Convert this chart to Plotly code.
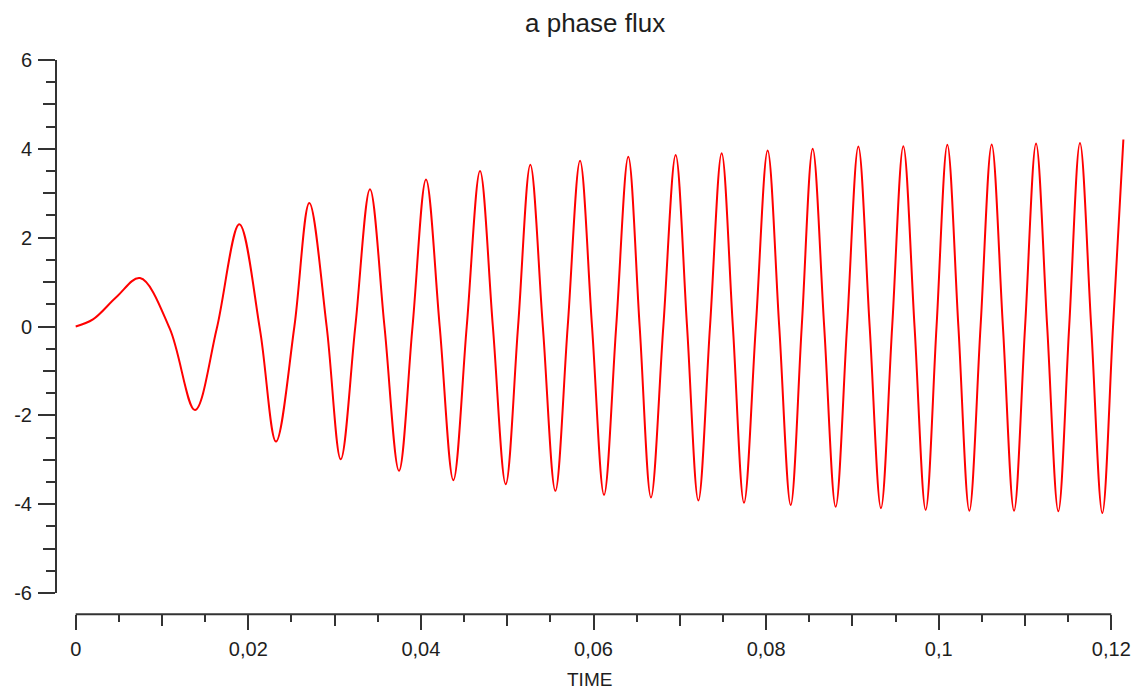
import plotly.graph_objects as go

# ---- data: a-phase flux linkage during start-up ----
time_s = [
    0.0, 0.002, 0.00475, 0.00745, 0.0109,
    0.01382, 0.01634, 0.01896, 0.02136, 0.02321,
    0.02534, 0.02707, 0.02908, 0.03071, 0.0324, 0.0341, 0.03578, 0.03746,
    0.03903, 0.04059, 0.04218, 0.04376, 0.04531, 0.04685, 0.04834, 0.04983, 0.05126, 0.05268,
    0.05413, 0.05558, 0.05701, 0.05844, 0.05983, 0.06122, 0.06263, 0.06403, 0.06535, 0.06666,
    0.06809, 0.06952, 0.07084, 0.07215, 0.0735, 0.07485, 0.07615, 0.07744, 0.07881, 0.08018,
    0.08152, 0.08285, 0.08413, 0.0854, 0.08673, 0.08806, 0.08938, 0.09069, 0.092, 0.09331,
    0.09461, 0.0959, 0.0972, 0.09849, 0.09975, 0.101, 0.10228, 0.10355, 0.10485, 0.10614,
    0.10744, 0.10873, 0.11001, 0.11128, 0.11257, 0.11386, 0.11512, 0.11637, 0.11767, 0.11896,
    0.1202, 0.1214,
]
flux = [
    0.0, 0.16, 0.67, 1.09, -0.05,
    -1.88, -0.05, 2.30, -0.08, -2.59,
    0.0, 2.78, 0.0, -2.99, 0.0, 3.09, 0.0, -3.25,
    0.0, 3.31, 0.0, -3.46, 0.0, 3.50, 0.0, -3.55, 0.0, 3.64,
    0.0, -3.70, 0.0, 3.73, 0.0, -3.79, 0.0, 3.82, 0.0, -3.85,
    0.0, 3.86, 0.0, -3.92, 0.0, 3.90, 0.0, -3.97, 0.0, 3.96,
    0.0, -4.02, 0.0, 4.00, 0.0, -4.06, 0.0, 4.05, 0.0, -4.09,
    0.0, 4.06, 0.0, -4.13, 0.0, 4.09, 0.0, -4.15, 0.0, 4.10,
    0.0, -4.15, 0.0, 4.12, 0.0, -4.16, 0.0, 4.13, 0.0, -4.20,
    0.0, 4.21,
]

# ---- tick definitions ----
x_major = [0, 0.02, 0.04, 0.06, 0.08, 0.1, 0.12]
x_major_text = ["0", "0,02", "0,04", "0,06", "0,08", "0,1", "0,12"]
x_mid = [0.01, 0.03, 0.05, 0.07, 0.09, 0.11]
x_minor = [0.005, 0.015, 0.025, 0.035, 0.045, 0.055,
           0.065, 0.075, 0.085, 0.095, 0.105, 0.115]
y_major = [-6, -4, -2, 0, 2, 4, 6]
y_mid = [-5, -3, -1, 1, 3, 5]
y_minor = [-5.5, -4.5, -3.5, -2.5, -1.5, -0.5, 0.5, 1.5, 2.5, 3.5, 4.5, 5.5]

title_text = "a phase flux"
x_label = "TIME"

# ---- page geometry (pixels) ----
W, H = 1136, 691
X0_PX = 75.7          # pixel column of t = 0
PX_PER_S = 8630.0     # horizontal scale
Y_TOP_PX, Y_BOT_PX = 60, 593   # rows of y = 6 and y = -6
XAXIS_ROW = 614.3
YAXIS_COL = 56.0

AXIS_COLOR = "#333333"
TEXT_COLOR = "#1e1e1e"
FONT = "Liberation Sans"


def px_x(p):
    return p / W


def px_y(p):
    return (H - p) / H


x_range = [-X0_PX / PX_PER_S, (W - X0_PX) / PX_PER_S]
y_domain = [px_y(Y_BOT_PX), px_y(Y_TOP_PX)]

fig = go.Figure()
fig.add_trace(go.Scatter(
    x=time_s, y=flux, mode="lines",
    line=dict(color="#ff0000", width=2, shape="spline", smoothing=1.0),
    hoverinfo="skip", showlegend=False,
))
# empty trace carrying the secondary tick axes
fig.add_trace(go.Scatter(x=[], y=[], xaxis="x2", yaxis="y2",
                         showlegend=False, hoverinfo="skip"))

tick_font = dict(family=FONT, size=20, color=TEXT_COLOR)

fig.update_layout(
    template="none",
    width=W, height=H,
    margin=dict(l=0, r=0, t=0, b=0, pad=0, autoexpand=False),
    paper_bgcolor="white", plot_bgcolor="white",
    showlegend=False,
    xaxis=dict(
        domain=[0, 1], range=x_range, anchor="free", position=px_y(XAXIS_ROW),
        automargin=False,
        showline=False, showgrid=False, zeroline=False,
        tickmode="array", tickvals=x_major, ticktext=x_major_text,
        ticks="outside", ticklen=15, tickwidth=2, tickcolor=AXIS_COLOR,
        tickfont=tick_font, ticklabelstandoff=2,
        minor=dict(tickmode="array", tickvals=x_minor, ticks="outside",
                   ticklen=7, tickwidth=2, tickcolor=AXIS_COLOR, showgrid=False),
    ),
    xaxis2=dict(
        overlaying="x", range=x_range, anchor="free", position=px_y(XAXIS_ROW),
        automargin=False,
        showline=False, showgrid=False, zeroline=False,
        tickmode="array", tickvals=x_mid, showticklabels=False,
        ticks="outside", ticklen=11, tickwidth=2, tickcolor=AXIS_COLOR,
    ),
    yaxis=dict(
        domain=y_domain, range=[-6, 6], anchor="free", position=px_x(YAXIS_COL),
        automargin=False,
        showline=True, linewidth=2, linecolor=AXIS_COLOR,
        showgrid=False, zeroline=False,
        tickmode="array", tickvals=y_major, ticktext=[str(v) for v in y_major],
        ticks="outside", ticklen=17, tickwidth=2, tickcolor=AXIS_COLOR,
        tickfont=tick_font, ticklabelstandoff=2,
        minor=dict(tickmode="array", tickvals=y_minor, ticks="outside",
                   ticklen=9, tickwidth=2, tickcolor=AXIS_COLOR, showgrid=False),
    ),
    yaxis2=dict(
        overlaying="y", range=[-6, 6], anchor="free", position=px_x(YAXIS_COL),
        automargin=False,
        showline=False, showgrid=False, zeroline=False,
        tickmode="array", tickvals=y_mid, showticklabels=False,
        ticks="outside", ticklen=13, tickwidth=2, tickcolor=AXIS_COLOR,
    ),
)

# x axis baseline spanning the labelled tick range
fig.add_shape(type="line", xref="x", yref="paper",
              x0=x_major[0], x1=x_major[-1],
              y0=px_y(XAXIS_ROW), y1=px_y(XAXIS_ROW),
              line=dict(color=AXIS_COLOR, width=2))

fig.add_annotation(text=title_text, xref="paper", yref="paper",
                   x=px_x(595), y=px_y(23), showarrow=False,
                   xanchor="center", yanchor="middle",
                   font=dict(family=FONT, size=26, color=TEXT_COLOR))
fig.add_annotation(text=x_label, xref="paper", yref="paper",
                   x=px_x(589), y=px_y(679), showarrow=False,
                   xanchor="center", yanchor="middle",
                   font=dict(family=FONT, size=19, color=TEXT_COLOR))

fig.write_html("out.html")
